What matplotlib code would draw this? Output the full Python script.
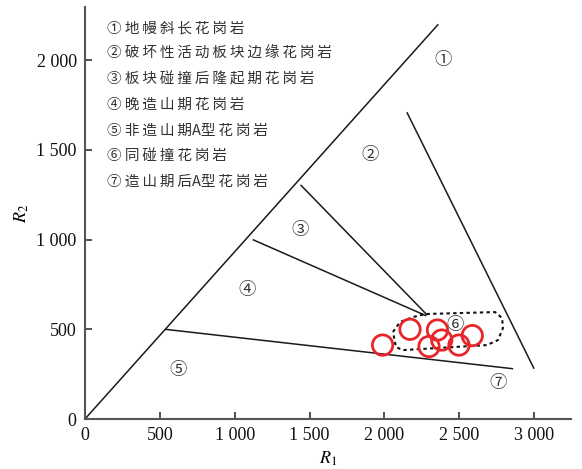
import matplotlib
matplotlib.use("Agg")
import matplotlib.pyplot as plt

plt.rcParams['font.family'] = ['Liberation Serif', 'Noto Sans CJK SC', 'DejaVu Sans']
plt.rcParams['mathtext.fontset'] = 'stix'

# Field boundaries (R1, R2)
diagonal_r1 = [0, 2360]
diagonal_r2 = [0, 2200]
line2_r1 = [2150, 3000]
line2_r2 = [1710, 280]
line3_r1 = [1440, 2285]
line3_r2 = [1305, 580]
line4_r1 = [1120, 2280]
line4_r2 = [1000, 575]
line5_r1 = [535, 2860]
line5_r2 = [500, 280]

# Outline of the sample field
loop_r1 = [2057, 2104, 2191, 2271, 2739, 2786, 2792, 2759, 2685, 2124, 2077, 2057]
loop_r2 = [485, 540, 568, 585, 596, 563, 507, 440, 412, 384, 401, 485]

# Samples
sample_r1 = [1988, 2171, 2354, 2298, 2383, 2498, 2587]
sample_r2 = [412, 500, 496, 404, 440, 412, 465]

# Field numbers and their positions
field_marks = ['①', '②', '③', '④', '⑤', '⑥', '⑦']
field_r1 = [2391, 1904, 1436, 1082, 621, 2472, 2759]
field_r2 = [2000, 1471, 1053, 719, 273, 524, 201]

legend_lines = [
    '① 地幔斜长花岗岩',
    '② 破坏性活动板块边缘花岗岩',
    '③ 板块碰撞后隆起期花岗岩',
    '④ 晚造山期花岗岩',
    '⑤ 非造山期A型花岗岩',
    '⑥ 同碰撞花岗岩',
    '⑦ 造山期后A型花岗岩',
]

x_ticks = [0, 500, 1000, 1500, 2000, 2500, 3000]
x_ticklabels = ['0', '500', '1 000', '1 500', '2 000', '2 500', '3 000']
y_ticks = [0, 500, 1000, 1500, 2000]
y_ticklabels = ['0', '500', '1 000', '1 500', '2 000']


def spaced(text):
    """Open up the character spacing of a CJK caption with thin spaces."""
    mark, body = text.split(' ', 1)
    out = ''
    for i, ch in enumerate(body):
        out += ch
        if i < len(body) - 1 and not (ch == 'A' or body[i + 1] == 'A'):
            out += '\u2009'
    return mark + ' ' + out


fig = plt.figure(figsize=(5.82, 4.69), dpi=100)
ax = fig.add_axes([0.146, 0.1066, 0.835, 0.878])
ax.set_xlim(0, 3246)
ax.set_ylim(0, 2295)

lc = '#1a1a1a'
for xs, ys in [(diagonal_r1, diagonal_r2), (line2_r1, line2_r2), (line3_r1, line3_r2),
               (line4_r1, line4_r2), (line5_r1, line5_r2)]:
    ax.plot(xs, ys, color=lc, lw=1.1, solid_capstyle='butt')

ax.plot(loop_r1, loop_r2, color='#111111', lw=1.5, linestyle=(0, (1.6, 1.6)))

ax.scatter(sample_r1, sample_r2, s=215, facecolors='none', edgecolors='#e8252a',
           linewidths=2.0, zorder=5)

for mark, fx, fy in zip(field_marks, field_r1, field_r2):
    ax.text(fx, fy, mark, fontsize=12.5, family=['Noto Sans CJK SC', 'DejaVu Sans'],
            ha='center', va='center', color='#333333', zorder=6)

for i, line in enumerate(legend_lines):
    ax.text(0.045, 0.949 - i * 0.0622, spaced(line), transform=ax.transAxes,
            fontsize=10.5, family=['Noto Sans CJK SC', 'DejaVu Sans'], ha='left',
            va='center', color='#333333')

ax.set_xticks(x_ticks)
ax.set_xticklabels(x_ticklabels)
ax.set_yticks(y_ticks)
ax.set_yticklabels(y_ticklabels)
ax.tick_params(direction='in', length=5, width=1.2, labelsize=13, colors='#333333',
               labelcolor='#111111', pad=6)

for side in ['top', 'right']:
    ax.spines[side].set_visible(False)
for side in ['left', 'bottom']:
    ax.spines[side].set_linewidth(1.5)
    ax.spines[side].set_color('#555555')

ax.set_xlabel(r'$R_{1}$', fontsize=13, labelpad=4)
ax.set_ylabel(r'$R_{2}$', fontsize=13, labelpad=4)

fig.savefig('out.png', dpi=100)
